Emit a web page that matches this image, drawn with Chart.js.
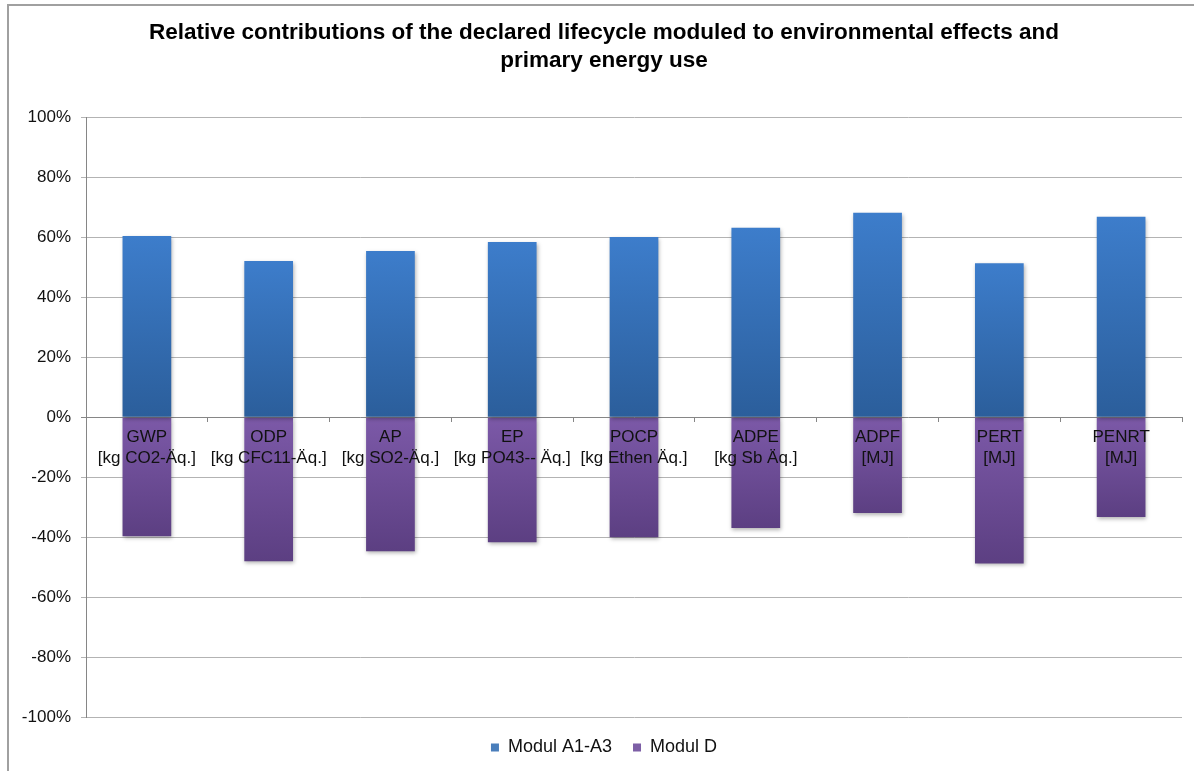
<!DOCTYPE html>
<html>
<head>
<meta charset="utf-8">
<script src="https://cdn.jsdelivr.net/npm/chart.js@4/dist/chart.umd.min.js"></script>
<style>
  html, body { margin: 0; padding: 0; background: #fff; overflow: hidden; }
  #wrap { position: relative; width: 1194px; height: 771px; }
  #frame { position: absolute; left: 7px; top: 4px; width: 1300px; height: 900px;
           border-top: 2px solid #a0a0a0; border-left: 2px solid #a0a0a0; pointer-events: none; }
</style>
</head>
<body>
<div id="wrap">
  <canvas id="c" width="1194" height="771"></canvas>
  <div id="frame"></div>
</div>
<script>
const titleLines = ['Relative contributions of the declared lifecycle moduled to environmental effects and', 'primary energy use'];
const categories = [
  ['GWP', '[kg CO2-Äq.]'],
  ['ODP', '[kg CFC11-Äq.]'],
  ['AP', '[kg SO2-Äq.]'],
  ['EP', '[kg PO43-- Äq.]'],
  ['POCP', '[kg Ethen Äq.]'],
  ['ADPE', '[kg Sb Äq.]'],
  ['ADPF', '[MJ]'],
  ['PERT', '[MJ]'],
  ['PENRT', '[MJ]']
];
const seriesNames = ['Modul A1-A3', 'Modul D'];
const modulA = [60.4, 52.0, 55.4, 58.4, 60.0, 63.1, 68.1, 51.3, 66.8];
const modulD = [-39.6, -48.0, -44.6, -41.6, -40.0, -36.9, -31.9, -48.7, -33.2];
const yTicks = [-100, -80, -60, -40, -20, 0, 20, 40, 60, 80, 100];

const FONT = 'Liberation Sans, Arial, sans-serif';

function barGradient(context, light, dark) {
  const chart = context.chart;
  const ys = chart.scales && chart.scales.y;
  if (context.type !== 'data' || !ys || !chart.chartArea) return dark;
  const v = context.raw;
  const p0 = ys.getPixelForValue(0);
  const p1 = ys.getPixelForValue(v);
  const top = Math.min(p0, p1), bot = Math.max(p0, p1);
  if (!isFinite(top) || !isFinite(bot) || bot - top < 1) return dark;
  const g = chart.ctx.createLinearGradient(0, top, 0, bot);
  g.addColorStop(0, light);
  g.addColorStop(1, dark);
  return g;
}

const shadowPlugin = {
  id: 'barShadow',
  beforeDatasetsDraw(chart) {
    const ctx = chart.ctx;
    ctx.save();
    ctx.shadowColor = 'rgba(0,0,0,0.30)';
    ctx.shadowBlur = 4;
    ctx.shadowOffsetX = 1;
    ctx.shadowOffsetY = 2;
  },
  afterDatasetsDraw(chart) {
    chart.ctx.restore();
  }
};

// let the y tick labels extend left of the scale box without being clipped
const yLabelRoom = {
  id: 'yLabelRoom',
  afterLayout(chart) {
    const y = chart.scales.y;
    y.left = 0;
    y.width = y.right;
  }
};

const legendColors = ['#4a7ebb', '#7d5fa6'];

new Chart(document.getElementById('c'), {
  type: 'bar',
  data: {
    labels: categories,
    datasets: [
      {
        label: seriesNames[0],
        data: modulA,
        backgroundColor: (ctx) => barGradient(ctx, '#3d7dcb', '#2b5e9b'),
        borderWidth: 0,
        barPercentage: 0.4,
        categoryPercentage: 1.0
      },
      {
        label: seriesNames[1],
        data: modulD,
        backgroundColor: (ctx) => barGradient(ctx, '#7c59a8', '#5c3f82'),
        borderWidth: 0,
        barPercentage: 0.4,
        categoryPercentage: 1.0
      }
    ]
  },
  options: {
    responsive: false,
    devicePixelRatio: 1,
    animation: false,
    layout: { padding: { left: 26, right: 12, top: 0, bottom: 4.5 } },
    plugins: {
      title: {
        display: true,
        text: titleLines,
        color: '#000',
        font: { family: FONT, size: 22.5, weight: 'bold', lineHeight: '28px' },
        padding: { top: 19, bottom: 42 }
      },
      legend: {
        position: 'bottom',
        labels: {
          boxWidth: 8,
          boxHeight: 8,
          padding: 21,
          color: '#111',
          font: { family: FONT, size: 18 },
          generateLabels(chart) {
            const items = Chart.defaults.plugins.legend.labels.generateLabels(chart);
            items.forEach((it, i) => { it.fillStyle = legendColors[i]; it.strokeStyle = legendColors[i]; it.lineWidth = 0; });
            return items;
          }
        }
      },
      tooltip: { enabled: false }
    },
    scales: {
      x: {
        stacked: true,
        position: { y: 0 },
        offset: true,
        grid: { display: true, drawOnChartArea: false, drawTicks: true, tickLength: 5, offset: true, color: '#868686' },
        border: { display: false },
        ticks: {
          z: 1,
          autoSkip: false,
          maxRotation: 0,
          minRotation: 0,
          padding: 5,
          color: '#111',
          font: { family: FONT, size: 17, lineHeight: 1.2 }
        }
      },
      y: {
        stacked: true,
        min: -100,
        max: 100,
        afterBuildTicks(scale) { scale.ticks = yTicks.map(v => ({ value: v })); },
        afterFit(scale) { scale.width = 60; },
        grid: {
          color: (c) => (c.tick && c.tick.value === 0) ? '#868686' : '#b3b3b3',
          tickLength: 5,
          drawTicks: true
        },
        border: { display: true, color: '#868686' },
        ticks: {
          padding: 10,
          color: '#111',
          font: { family: FONT, size: 17 },
          callback: (v) => v + '%'
        }
      }
    }
  },
  plugins: [shadowPlugin, yLabelRoom]
});
</script>
</body>
</html>
